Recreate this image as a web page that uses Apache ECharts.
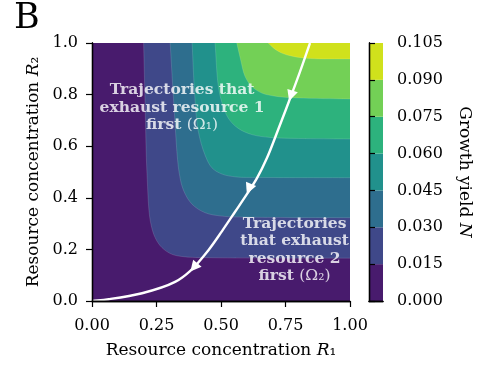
<!DOCTYPE html>
<html>
<head>
<meta charset="utf-8">
<script src="https://cdn.jsdelivr.net/npm/echarts@6/dist/echarts.min.js"></script>
<style>
  html, body { margin: 0; padding: 0; background: #fff; }
  #chart { width: 493px; height: 367px; }
</style>
</head>
<body>
<div id="chart"></div>
<script>
// Contour levels of growth yield N and the viridis colour for each band
const levels = [0, 0.015, 0.03, 0.045, 0.06, 0.075, 0.09, 0.105];
const bandColors = ['#481b6d', '#3f4889', '#2e6e8e', '#21918c', '#2db27d', '#73d056', '#d0e11c'];

// Iso-yield boundaries [R1, R2]; the region above/right of each curve has N >= level
const contour015 = [[0.200, 1.0], [0.206, 0.75], [0.213, 0.496], [0.226, 0.310], [0.245, 0.245], [0.271, 0.207], [0.310, 0.181], [0.362, 0.171], [0.45, 0.168], [1.0, 0.166]];
const contour030 = [[0.303, 1.0], [0.318, 0.75], [0.338, 0.496], [0.356, 0.426], [0.388, 0.375], [0.439, 0.342], [0.504, 0.329], [0.6, 0.325], [1.0, 0.323]];
const contour045 = [[0.388, 1.0], [0.398, 0.80], [0.411, 0.663], [0.438, 0.566], [0.465, 0.516], [0.504, 0.492], [0.558, 0.481], [0.65, 0.479], [1.0, 0.478]];
const contour060 = [[0.477, 1.0], [0.489, 0.837], [0.503, 0.771], [0.528, 0.709], [0.567, 0.669], [0.620, 0.645], [0.690, 0.634], [0.80, 0.630], [1.0, 0.628]];
const contour075 = [[0.561, 1.0], [0.576, 0.935], [0.593, 0.871], [0.619, 0.832], [0.658, 0.806], [0.716, 0.793], [0.80, 0.787], [1.0, 0.783]];
const contour090 = [[0.683, 1.0], [0.703, 0.981], [0.735, 0.961], [0.780, 0.948], [0.845, 0.940], [1.0, 0.938]];
const contours = [contour015, contour030, contour045, contour060, contour075, contour090];

// Resource trajectory (R1, R2) and its direction arrows [tipR1, tipR2, backR1, backR2]
const trajectory = [[0, 0], [0.065, 0.007], [0.194, 0.030], [0.322, 0.074], [0.380, 0.116], [0.452, 0.198], [0.504, 0.271], [0.554, 0.345], [0.601, 0.415], [0.640, 0.477], [0.678, 0.554], [0.721, 0.663], [0.764, 0.775], [0.806, 0.888], [0.845, 1.0]];
const arrows = [[0.764, 0.775, 0.777, 0.814], [0.600, 0.415, 0.616, 0.453], [0.381, 0.114, 0.403, 0.140]];

// Axis ticks
const xTicks = [0, 0.25, 0.5, 0.75, 1.0];
const yTicks = [0, 0.2, 0.4, 0.6, 0.8, 1.0];

// Region annotations
const annotations = [
  { at: [0.349, 0.750], text: '{b|Trajectories that}\n{b|exhaust resource 1}\n{b|first }{m|(Ω₁)}' },
  { at: [0.785, 0.197], text: '{b|Trajectories}\n{b|that exhaust}\n{b|resource 2}\n{b|first }{m|(Ω₂)}' }
];

const SERIF = 'DejaVu Serif';
const chart = echarts.init(document.getElementById('chart'), null, { renderer: 'canvas' });

// Centripetal Catmull-Rom through pixel points, returned as SVG path commands
function smoothPath(px) {
  const n = px.length;
  const P = (i) => {
    if (i < 0) return [2 * px[0][0] - px[1][0], 2 * px[0][1] - px[1][1]];
    if (i >= n) return [2 * px[n - 1][0] - px[n - 2][0], 2 * px[n - 1][1] - px[n - 2][1]];
    return px[i];
  };
  const dist = (a, b) => Math.max(Math.hypot(a[0] - b[0], a[1] - b[1]), 1e-6);
  let d = 'M' + px[0][0] + ' ' + px[0][1];
  for (let i = 0; i < n - 1; i++) {
    const p0 = P(i - 1), p1 = P(i), p2 = P(i + 1), p3 = P(i + 2);
    const d1 = Math.sqrt(dist(p0, p1)), d2 = Math.sqrt(dist(p1, p2)), d3 = Math.sqrt(dist(p2, p3));
    const a1 = d1 * d1, a2 = d2 * d2, a3 = d3 * d3;
    const b1 = [0, 1].map(k => (a1 * p2[k] - a2 * p0[k] + (2 * a1 + 3 * d1 * d2 + a2) * p1[k]) / (3 * d1 * (d1 + d2)));
    const b2 = [0, 1].map(k => (a3 * p1[k] + (2 * a3 + 3 * d3 * d2 + a2) * p2[k] - a2 * p3[k]) / (3 * d3 * (d3 + d2)));
    d += ' C' + b1[0] + ' ' + b1[1] + ' ' + b2[0] + ' ' + b2[1] + ' ' + p2[0] + ' ' + p2[1];
  }
  return d;
}

const frameLine = { show: true, lineStyle: { color: '#000', width: 1.3 } };
const tickStyle = { show: true, inside: false, length: 6, lineStyle: { color: '#000', width: 1.2 } };
const tickLabel = (digits, margin) => ({
  show: true, color: '#000', fontFamily: SERIF, fontSize: 16, margin: margin,
  formatter: (v) => Number(v).toFixed(digits)
});
const hidden = { axisLine: { show: false }, axisTick: { show: false }, axisLabel: { show: false }, splitLine: { show: false } };
const nameRich = {
  n: { fontFamily: SERIF, fontSize: 17, color: '#000' },
  i: { fontFamily: SERIF, fontSize: 17, fontStyle: 'italic', color: '#000' }
};

const option = {
  animation: false,
  backgroundColor: '#fff',
  grid: [
    { left: 92, top: 43, width: 258, height: 258, show: true, backgroundColor: bandColors[0], borderWidth: 0 },
    { left: 369, top: 43, width: 14, height: 258, show: false }
  ],
  xAxis: [
    {
      gridIndex: 0, type: 'value', min: 0, max: 1, interval: 0.25, position: 'bottom', z: 10,
      axisLine: frameLine, axisTick: tickStyle, axisLabel: tickLabel(2, 17), splitLine: { show: false },
      name: '{n|Resource concentration }{i|R}{n|₁}', nameLocation: 'middle', nameGap: 41,
      nameTextStyle: { rich: nameRich }
    },
    { gridIndex: 0, type: 'value', min: 0, max: 1, position: 'top', z: 10, ...hidden, axisLine: frameLine },
    { gridIndex: 1, type: 'value', min: 0, max: 1, position: 'bottom', z: 10, ...hidden, axisLine: frameLine },
    { gridIndex: 1, type: 'value', min: 0, max: 1, position: 'top', z: 10, ...hidden, axisLine: frameLine }
  ],
  yAxis: [
    {
      gridIndex: 0, type: 'value', min: 0, max: 1, interval: 0.2, position: 'left', z: 10,
      axisLine: frameLine, axisTick: tickStyle, axisLabel: tickLabel(1, 14), splitLine: { show: false },
      name: '{n|Resource concentration }{i|R}{n|₂}', nameLocation: 'middle', nameGap: 49, nameRotate: 90,
      nameTextStyle: { rich: nameRich }
    },
    { gridIndex: 0, type: 'value', min: 0, max: 1, position: 'right', z: 10, ...hidden, axisLine: frameLine },
    { gridIndex: 1, type: 'value', min: 0, max: 0.105, position: 'left', z: 10, ...hidden, axisLine: frameLine },
    {
      gridIndex: 1, type: 'value', min: 0, max: 0.105, interval: 0.015, position: 'right', z: 10,
      axisLine: frameLine, axisTick: tickStyle, axisLabel: tickLabel(3, 14), splitLine: { show: false },
      name: '{n|Growth yield }{i|N}', nameLocation: 'middle', nameGap: 73, nameRotate: -90,
      nameTextStyle: { rich: nameRich }
    }
  ],
  graphic: [
    { type: 'text', left: 14, top: 1, style: { text: 'B', font: '35px "DejaVu Serif"', fill: '#000' } }
  ],
  series: [
    {
      // filled contour bands: region enclosed by each iso-yield curve and the top-right corner
      type: 'custom',
      xAxisIndex: 0, yAxisIndex: 0,
      data: contours.map((c, i) => [c[0][0], c[0][1], i]),
      encode: { x: 0, y: 1 },
      silent: true,
      clip: true,
      z: 2,
      renderItem: (params, api) => {
        const idx = api.value(2);
        const px = contours[idx].map(p => api.coord(p));
        const corner = api.coord([1, 1]);
        const d = smoothPath(px) + ' L' + corner[0] + ' ' + corner[1] + ' Z';
        return {
          type: 'group',
          children: [
            { type: 'path', shape: { pathData: d }, style: { fill: bandColors[idx + 1], stroke: null } },
            { type: 'path', shape: { pathData: smoothPath(px) }, style: { fill: null, stroke: 'rgba(255,255,255,0.22)', lineWidth: 0.6 } }
          ]
        };
      }
    },
    {
      // colour bar bands
      type: 'custom',
      xAxisIndex: 2, yAxisIndex: 3,
      data: levels.slice(0, -1).map((lo, i) => [lo, levels[i + 1], i]),
      encode: { y: [0, 1] },
      silent: true,
      renderItem: (params, api) => {
        const p0 = api.coord([0, api.value(0)]);
        const p1 = api.coord([1, api.value(1)]);
        return {
          type: 'rect',
          shape: { x: p0[0], y: p1[1], width: p1[0] - p0[0], height: p0[1] - p1[1] },
          style: { fill: bandColors[api.value(2)] }
        };
      }
    },
    {
      // trajectory curve
      type: 'custom',
      xAxisIndex: 0, yAxisIndex: 0,
      data: [trajectory[0]],
      encode: { x: 0, y: 1 },
      silent: true,
      clip: true,
      z: 5,
      renderItem: (params, api) => ({
        type: 'path',
        shape: { pathData: smoothPath(trajectory.map(p => api.coord(p))) },
        style: { fill: null, stroke: '#fff', lineWidth: 2.4 }
      })
    },
    {
      type: 'custom',
      xAxisIndex: 0, yAxisIndex: 0,
      data: arrows,
      encode: { x: [0, 2], y: [1, 3] },
      silent: true,
      z: 6,
      renderItem: (params, api) => {
        const tip = api.coord([api.value(0), api.value(1)]);
        const back = api.coord([api.value(2), api.value(3)]);
        let dx = tip[0] - back[0], dy = tip[1] - back[1];
        const len = Math.hypot(dx, dy) || 1;
        dx /= len; dy /= len;
        const L = 11, W = 5.5;
        const bx = tip[0] - dx * L, by = tip[1] - dy * L;
        return {
          type: 'polygon',
          shape: { points: [tip, [bx - dy * W, by + dx * W], [bx + dy * W, by - dx * W]] },
          style: { fill: '#fff' }
        };
      }
    },
    {
      type: 'scatter',
      xAxisIndex: 0, yAxisIndex: 0,
      data: annotations.map(a => ({ value: a.at, label: { formatter: a.text } })),
      symbolSize: 1,
      itemStyle: { color: 'rgba(0,0,0,0)' },
      silent: true,
      z: 7,
      label: {
        show: true, position: 'inside', align: 'center', verticalAlign: 'middle',
        rich: {
          b: { fontFamily: SERIF, fontWeight: 'bold', fontSize: 15.5, color: '#fff', lineHeight: 17.5, align: 'center' },
          m: { fontFamily: SERIF, fontSize: 15.5, color: '#fff', lineHeight: 17.5 }
        }
      }
    }
  ]
};

chart.setOption(option);
</script>
</body>
</html>
